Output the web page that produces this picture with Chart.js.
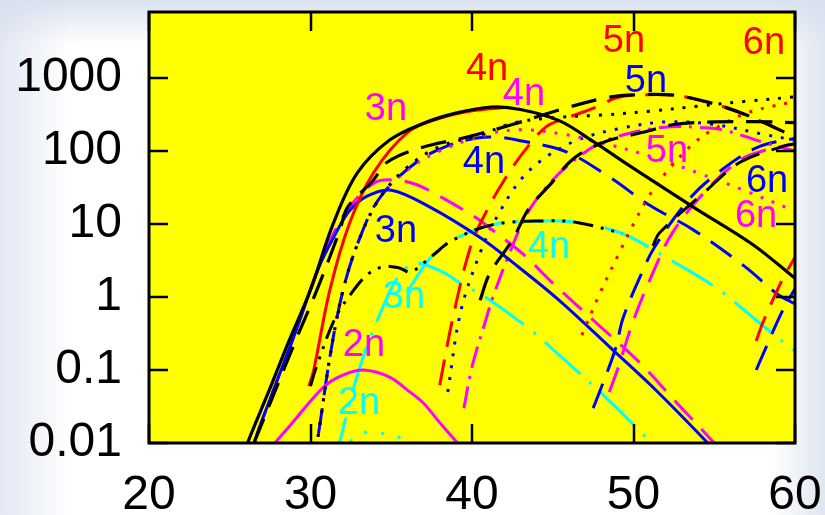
<!DOCTYPE html>
<html>
<head>
<meta charset="utf-8">
<script src="https://cdn.jsdelivr.net/npm/chart.js@4.4.1/dist/chart.umd.min.js"></script>
<style>
html, body { margin: 0; padding: 0; }
body {
  width: 825px; height: 515px; overflow: hidden;
  background:
    linear-gradient(to bottom, rgba(214,223,238,0.9) 0px, rgba(255,255,255,0) 45px),
    linear-gradient(to right, #e2e8f3 0px, #ffffff 70px, #ffffff 770px, #dfe6f1 825px);
}
canvas { display: block; }
</style>
</head>
<body>
<canvas id="c" width="825" height="515"></canvas>
<script>
// axis ticks
const xTicks = [20, 30, 40, 50, 60];
const yTicks = [0.01, 0.1, 1, 10, 100, 1000];

// curves, [x, y]
const blackSolid = [[25.5,0.004],[26.1,0.01],[27.4,0.05],[28.7,0.26],[30,1.25],[31.4,10],[32.9,50],[34.9,141],[37,240],[39,330],[41.2,400],[43,370],[45.4,260],[47.5,135],[49.6,66],[51.6,34],[53.9,16],[57.4,5.2],[60,1.8]];
const redSolid = [[29.9,0.06],[30.2,0.1],[31.2,1.25],[32.4,10],[33.9,50],[36,178],[38,280],[40,355],[42,395]];
const blueSolid = [[26,0.004],[26.5,0.01],[27.8,0.06],[29,0.3],[30.5,2.5],[31.5,7],[32.4,15],[33.5,24],[35,29],[37.4,17],[40.5,6.5],[42.5,3],[45.4,0.9],[48.7,0.19],[51.5,0.05],[54.6,0.01],[55.5,0.006]];
const magentaSolid = [[27.3,0.007],[27.8,0.01],[28.7,0.017],[30.8,0.058],[32,0.085],[33.3,0.1],[34.9,0.08],[36,0.053],[37,0.035],[38,0.019],[39.1,0.01],[39.6,0.007]];
const magentaDash3 = [[26,0.004],[26.5,0.01],[27.8,0.06],[29,0.3],[30.5,2.5],[31.5,8],[32.5,18],[34,37],[35.2,40],[36.5,35],[38,24],[40.3,12],[41.1,8.8],[43.2,3.8],[45,1.55],[47.7,0.44],[50.4,0.125],[52.7,0.035],[55,0.01],[55.8,0.006]];
const blueDash4 = [[30,0.004],[30.4,0.01],[31.2,0.15],[32,1.2],[33,6],[34.3,23],[36.6,71],[38.6,120],[40.3,150],[41.5,155],[43,138],[45.8,98],[48.5,44],[51,18],[53.7,8.3],[56.9,2.6],[58.9,1.1],[60,0.8]];
const blackDash = [[26.5,0.01],[29.1,0.26],[30.4,1.25],[31.8,8],[32.3,17],[33.9,40],[34.7,69],[36.8,110],[39.7,155],[42.5,230],[45.4,365],[48.4,540],[50.5,590],[52.5,580],[54.7,460],[57,310],[60,155]];
const redDash5 = [[38,0.062],[38.8,0.5],[39.9,4.8],[40.9,15],[42,40],[43.2,97],[44.6,215],[46,290],[47.7,400],[49,540],[50.8,590],[52.5,580],[54.7,460],[57,310],[60,155]];
const blackDotted = [[30,0.004],[30.4,0.01],[31.2,0.15],[32,1.2],[33,6],[34.3,23],[36,60],[38,115],[40.5,165],[42.5,240],[45,285],[48,310],[51,350],[54,410],[57,480],[60,550]];
const magentaDotted4 = [[30,0.004],[30.4,0.01],[31.2,0.15],[32,1.2],[33,6],[34.3,23],[36,55],[38,100],[41,170],[43,195],[45.6,170],[48,130],[51,85],[54,50],[57,28],[60,15]];
const magentaDash5 = [[39.5,0.03],[40,0.11],[40.8,0.44],[41.3,1],[42.4,4.4],[43.5,15],[45,40],[46.5,80],[48,130],[50,180],[52.3,215],[54,210],[55.5,195],[58.3,126],[60,100]];
const blackDash5 = [[40.5,0.9],[41.1,2.1],[42.5,6],[43.5,16],[45,38],[46,69],[47,100],[48.5,140],[50.6,180],[52.5,230],[55,250],[57.5,252],[60,245]];
const blueDotted5 = [[38.5,0.05],[39.3,0.63],[40.5,4],[41.5,12],[43,40],[44.5,80],[46.5,140],[49,200],[52,250],[55,230],[58,170],[60,140]];
const redDotted6 = [[46.8,0.3],[47.9,1.1],[49.2,4.4],[50,10],[51,25],[52,50],[53.7,126],[55,200],[57,330],[60,480]];
const blueDash6 = [[47.5,0.03],[48,0.057],[48.9,0.2],[49.35,0.51],[50.5,2.1],[51.3,4.8],[53.3,20],[54.9,44],[57.6,110],[60,150]];
const magentaDash6 = [[48.5,0.05],[49,0.1],[50,0.48],[51.1,1.9],[52.4,7.5],[54.5,29],[56.6,75],[58,100],[60,126]];
const blackDash6 = [[51.2,5],[51.6,7.5],[54.3,26],[56.6,70],[59.5,120],[60,125]];
const blackDDD = [[30,0.06],[30.3,0.1],[31.5,0.5],[32.5,1.1],[33.5,2],[34.5,2.6],[35.5,2.5],[36.2,2.2],[37.5,3.6],[38.8,6],[41.3,9.8],[44.4,11],[46.5,10.5],[49.3,7.4]];
const cyan2 = [[31.5,0.008],[32.3,0.01],[33.3,0.0137],[34.2,0.0137],[35.2,0.0125],[36.5,0.01],[37,0.009]];
const cyan3 = [[31.5,0.005],[31.8,0.01],[33,0.1],[34.4,0.66],[35.5,2],[36.5,2.9],[38,2.3],[39.3,1.55],[41.1,0.91],[43.8,0.33],[45.4,0.16],[48.1,0.046],[51.1,0.01],[51.6,0.007]];
const cyan4 = [[36,1.2],[37.5,3.6],[38.8,6],[41.3,9.8],[44.4,11],[46.5,10.5],[49.3,7.4],[52.3,3.2],[55.2,1.3],[57.6,0.48],[60,0.18]];
const redDash7 = [[57.6,0.25],[58,0.44],[59.2,1.7],[60,3.5]];
const blueDash7 = [[57.6,0.1],[58,0.16],[59.2,0.63],[60,1.3]];

// channel labels
const labelText  = ['3n','4n','4n','5n','5n','6n','4n','5n','6n','6n','3n','4n','3n','2n','2n'];
const labelX     = [34.67,40.93,43.22,49.41,50.77,58.08,40.74,52.07,58.27,57.59,35.29,44.77,35.79,33.31,33.0];
const labelY     = [388,1370,624,3320,940,3110,75,103,40,13.3,8.3,5.0,1.06,0.234,0.0365];
const labelColor = ['#ff00ff','#ff0000','#ff00ff','#ff0000','#0000ff','#ff0000','#0000ff','#ff00ff','#0000ff','#ff00ff','#0000ff','#00ffff','#00ffff','#ff00ff','#00ffff'];

const K = '#000000', R = '#ff0000', M = '#ff00ff', B = '#0000ff', C = '#00ffff';
const SOLID = [], LONG = [26, 13], DOT = [3, 9], DASHDOT = [22, 8, 3, 8], DDD = [48, 12, 3, 12], DDD_K = [20, 8, 3, 8, 3, 8], SPARSE = [3, 14];

// drawn top-first
const series = [
  [blackSolid, K, SOLID, 3.2],
  [blackDash, K, LONG, 3.2],
  [blackDash5, K, LONG, 3.2],
  [blackDash6, K, LONG, 3],
  [blackDotted, K, DOT, 3],
  [blackDDD, K, DDD_K, 3],
  [redSolid, R, SOLID, 3],
  [redDash5, R, LONG, 3],
  [redDotted6, R, DOT, 3],
  [redDash7, R, LONG, 3],
  [magentaSolid, M, SOLID, 3],
  [blueSolid, B, SOLID, 3],
  [magentaDash3, M, LONG, 3],
  [magentaDotted4, M, DOT, 3],
  [magentaDash5, M, DASHDOT, 3],
  [magentaDash6, M, LONG, 3],
  [blueDash4, B, LONG, 3],
  [blueDotted5, B, DOT, 3],
  [blueDash6, B, LONG, 3],
  [blueDash7, B, LONG, 3],
  [cyan2, C, SPARSE, 3],
  [cyan3, C, DDD, 3],
  [cyan4, C, DDD, 3]
];

const FONT = "'Liberation Sans', Arial, sans-serif";

const frame = {
  id: 'frame',
  beforeDatasetsDraw(chart) {
    const { ctx, chartArea: a } = chart;
    ctx.save();
    ctx.fillStyle = '#ffff00';
    ctx.fillRect(a.left, a.top, a.right - a.left, a.bottom - a.top);
    ctx.restore();
  },
  afterDatasetsDraw(chart) {
    const { ctx, chartArea: a, scales } = chart;
    ctx.save();
    // labels
    ctx.font = '38px ' + FONT;
    ctx.textAlign = 'center';
    ctx.textBaseline = 'middle';
    labelText.forEach((t, i) => {
      ctx.fillStyle = labelColor[i];
      ctx.fillText(t, scales.x.getPixelForValue(labelX[i]), scales.y.getPixelForValue(labelY[i]) + 2);
    });
    // inward ticks
    const tl = 19;
    ctx.strokeStyle = '#000';
    ctx.lineWidth = 2.5;
    ctx.beginPath();
    xTicks.forEach(v => {
      const px = Math.round(scales.x.getPixelForValue(v));
      ctx.moveTo(px, a.bottom); ctx.lineTo(px, a.bottom - tl);
      ctx.moveTo(px, a.top); ctx.lineTo(px, a.top + tl);
    });
    yTicks.forEach(v => {
      const py = Math.round(scales.y.getPixelForValue(v));
      ctx.moveTo(a.left, py); ctx.lineTo(a.left + tl, py);
      ctx.moveTo(a.right, py); ctx.lineTo(a.right - tl, py);
    });
    ctx.stroke();
    ctx.lineWidth = 3;
    ctx.strokeRect(a.left, a.top, a.right - a.left, a.bottom - a.top);
    ctx.restore();
  }
};

new Chart(document.getElementById('c'), {
  type: 'line',
  data: {
    datasets: series.map(([pts, color, dash, w]) => ({
      data: pts.map(([x, y]) => ({ x, y })),
      borderColor: color,
      borderDash: dash,
      borderWidth: w,
      pointRadius: 0,
      fill: false,
      tension: 0.35
    }))
  },
  options: {
    responsive: false,
    devicePixelRatio: 1,
    animation: false,
    layout: { padding: { top: 12, right: 30, left: 0, bottom: 0 } },
    plugins: { legend: { display: false }, tooltip: { enabled: false } },
    scales: {
      x: {
        type: 'linear', min: 20, max: 60,
        grid: { display: false, drawTicks: false },
        border: { display: false },
        afterBuildTicks: s => { s.ticks = xTicks.map(v => ({ value: v })); },
        afterFit: s => { s.height = 72; s.paddingLeft = 0; s.paddingRight = 0; },
        ticks: { color: '#000', font: { family: FONT, size: 48 }, padding: 24, maxRotation: 0, autoSkip: false }
      },
      y: {
        type: 'logarithmic', min: 0.01, max: 8000,
        grid: { display: false, drawTicks: false },
        border: { display: false },
        afterBuildTicks: s => { s.ticks = yTicks.map(v => ({ value: v })); },
        afterFit: s => { s.width = 149; s.paddingTop = 0; s.paddingBottom = 0; },
        ticks: { color: '#000', font: { family: FONT, size: 48 }, padding: 27, autoSkip: false, callback: v => String(v) }
      }
    }
  },
  plugins: [frame]
});
</script>
</body>
</html>
